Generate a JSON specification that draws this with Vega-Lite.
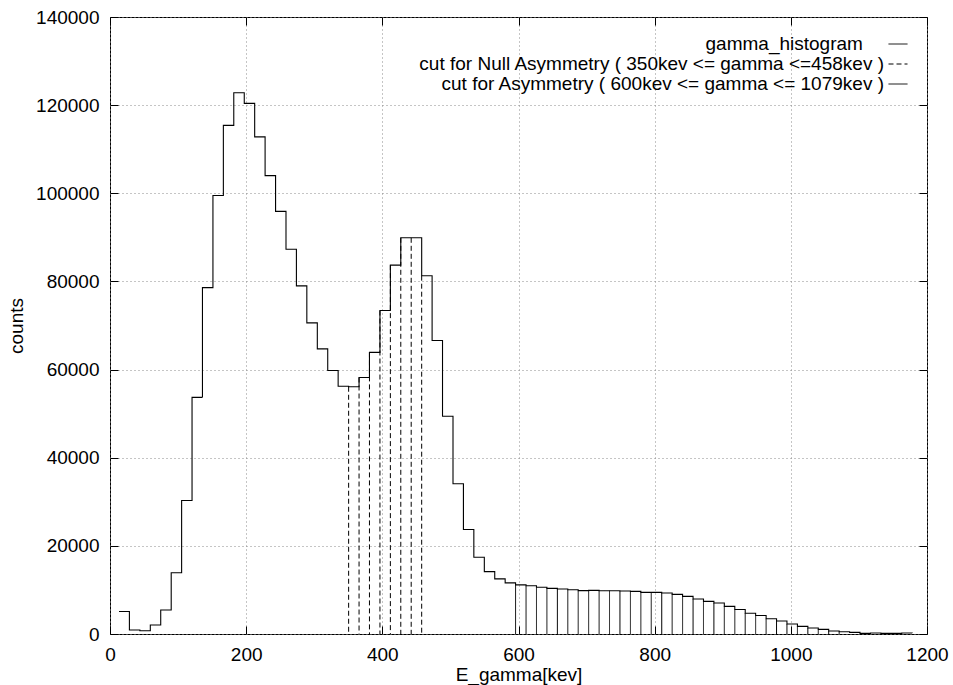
{
  "$schema": "https://vega.github.io/schema/vega-lite/v6.json",
  "width": 817,
  "height": 617,
  "autosize": {"type": "none"},
  "padding": {"left": 110, "top": 17, "right": 26, "bottom": 51},
  "background": "white",
  "config": {
    "view": {"stroke": "black", "strokeWidth": 1},
    "font": "Liberation Sans",
    "axis": {
      "labelFont": "Liberation Sans",
      "titleFont": "Liberation Sans",
      "labelFontSize": 19,
      "titleFontSize": 19,
      "labelColor": "black",
      "titleColor": "black",
      "titleFontWeight": "normal",
      "tickColor": "black",
      "tickSize": -8,
      "tickWidth": 1,
      "domain": false,
      "gridColor": "#8a8a8a",
      "gridDash": [1, 3],
      "gridWidth": 1,
      "labelPadding": 19,
      "labelFlush": false,
      "labelOverlap": false
    },
    "legend": {
      "orient": "top-right",
      "offset": 17,
      "padding": 0,
      "labelFont": "Liberation Sans",
      "labelFontSize": 19,
      "labelColor": "black",
      "labelLimit": 0,
      "symbolType": "stroke",
      "symbolSize": 361,
      "symbolStrokeColor": "black",
      "symbolStrokeWidth": 1,
      "labelAlign": "right",
      "labelOffset": -24,
      "rowPadding": -0.5
    }
  },
  "datasets": {
    "hist": [
      {"E": 13.2, "counts": 5100},
      {"E": 28.5, "counts": 900},
      {"E": 43.9, "counts": 750},
      {"E": 59.2, "counts": 2050},
      {"E": 74.5, "counts": 5450},
      {"E": 89.9, "counts": 13900},
      {"E": 105.2, "counts": 30300},
      {"E": 120.5, "counts": 53700},
      {"E": 135.8, "counts": 78600},
      {"E": 151.2, "counts": 99500},
      {"E": 166.5, "counts": 115400},
      {"E": 181.8, "counts": 122800},
      {"E": 197.2, "counts": 120400},
      {"E": 212.5, "counts": 112800},
      {"E": 227.8, "counts": 104000},
      {"E": 243.2, "counts": 95900},
      {"E": 258.5, "counts": 87300},
      {"E": 273.8, "counts": 79000},
      {"E": 289.1, "counts": 70600},
      {"E": 304.5, "counts": 64700},
      {"E": 319.8, "counts": 59800},
      {"E": 335.1, "counts": 56200},
      {"E": 350.5, "counts": 56100},
      {"E": 365.8, "counts": 58200},
      {"E": 381.1, "counts": 63900},
      {"E": 396.5, "counts": 73400},
      {"E": 411.8, "counts": 83700},
      {"E": 427.1, "counts": 89900},
      {"E": 442.4, "counts": 89900},
      {"E": 457.8, "counts": 81300},
      {"E": 473.1, "counts": 66600},
      {"E": 488.4, "counts": 49400},
      {"E": 503.8, "counts": 34100},
      {"E": 519.1, "counts": 23700},
      {"E": 534.4, "counts": 17400},
      {"E": 549.8, "counts": 14150},
      {"E": 565.1, "counts": 12500},
      {"E": 580.4, "counts": 11600},
      {"E": 595.7, "counts": 11150},
      {"E": 611.1, "counts": 10950},
      {"E": 626.4, "counts": 10600},
      {"E": 641.7, "counts": 10350},
      {"E": 657.1, "counts": 10200},
      {"E": 672.4, "counts": 10050},
      {"E": 687.7, "counts": 9850},
      {"E": 703.0, "counts": 9900},
      {"E": 718.4, "counts": 9830},
      {"E": 733.7, "counts": 9830},
      {"E": 749.0, "counts": 9760},
      {"E": 764.4, "counts": 9670},
      {"E": 779.7, "counts": 9440},
      {"E": 795.0, "counts": 9440},
      {"E": 810.4, "counts": 9300},
      {"E": 825.7, "counts": 9000},
      {"E": 841.0, "counts": 8540},
      {"E": 856.4, "counts": 7950},
      {"E": 871.7, "counts": 7400},
      {"E": 887.0, "counts": 7040},
      {"E": 902.3, "counts": 6270},
      {"E": 917.7, "counts": 5550},
      {"E": 933.0, "counts": 4720},
      {"E": 948.3, "counts": 4200},
      {"E": 963.7, "counts": 3470},
      {"E": 979.0, "counts": 2950},
      {"E": 994.3, "counts": 2270},
      {"E": 1009.7, "counts": 1730},
      {"E": 1025.0, "counts": 1360},
      {"E": 1040.3, "counts": 1050},
      {"E": 1055.6, "counts": 680},
      {"E": 1071.0, "counts": 520},
      {"E": 1086.3, "counts": 360},
      {"E": 1101.6, "counts": 140},
      {"E": 1117.0, "counts": 230},
      {"E": 1132.3, "counts": 140},
      {"E": 1147.6, "counts": 140},
      {"E": 1162.9, "counts": 230},
      {"E": 1178.3, "counts": 200}
    ]
  },
  "layer": [
    {
      "data": {"name": "hist"},
      "mark": {"type": "line", "interpolate": "step-after", "color": "black", "strokeWidth": 1.1},
      "encoding": {
        "x": {
          "field": "E",
          "type": "quantitative",
          "scale": {"domain": [0, 1200], "nice": false, "zero": false},
          "axis": {
            "orient": "bottom",
            "values": [0, 200, 400, 600, 800, 1000, 1200],
            "grid": true,
            "format": "d",
            "title": "E_gamma[kev]",
            "titlePadding": 1
          }
        },
        "y": {
          "field": "counts",
          "type": "quantitative",
          "scale": {"domain": [0, 140000], "nice": false},
          "axis": {
            "orient": "left",
            "values": [0, 20000, 40000, 60000, 80000, 100000, 120000, 140000],
            "grid": true,
            "format": "d",
            "title": "counts",
            "titlePadding": 9
          }
        },
        "strokeDash": {
          "datum": "gamma_histogram",
          "scale": {
            "domain": [
              "gamma_histogram",
              "cut for Null Asymmetry ( 350kev <= gamma <=458kev )",
              "cut for Asymmetry ( 600kev <= gamma <= 1079kev )"
            ],
            "range": [[1, 0], [5, 3], [1, 0]]
          },
          "legend": {
            "title": null,
            "labelExpr": "datum.value == 'gamma_histogram' ? 'gamma_histogram\u00a0\u00a0\u00a0\u00a0\u200b' : datum.label"
          }
        }
      }
    },
    {
      "data": {"name": "hist"},
      "transform": [{"filter": "datum.E >= 350 && datum.E <= 458"}],
      "mark": {"type": "rule", "color": "black", "strokeWidth": 1},
      "encoding": {
        "x": {
          "field": "E",
          "type": "quantitative",
          "axis": {
            "orient": "top",
            "values": [0, 200, 400, 600, 800, 1000, 1200],
            "labels": false,
            "grid": false,
            "title": null
          }
        },
        "y": {
          "field": "counts",
          "type": "quantitative",
          "axis": {
            "orient": "right",
            "values": [0, 20000, 40000, 60000, 80000, 100000, 120000, 140000],
            "labels": false,
            "grid": false,
            "title": null
          }
        },
        "y2": {"datum": 0},
        "strokeDash": {"datum": "cut for Null Asymmetry ( 350kev <= gamma <=458kev )"}
      }
    },
    {
      "data": {"name": "hist"},
      "transform": [{"filter": "datum.E >= 595 && datum.E <= 1079"}],
      "mark": {"type": "rule", "color": "black", "strokeWidth": 1},
      "encoding": {
        "x": {"field": "E", "type": "quantitative", "axis": null},
        "y": {"field": "counts", "type": "quantitative", "axis": null},
        "y2": {"datum": 0},
        "strokeDash": {"datum": "cut for Asymmetry ( 600kev <= gamma <= 1079kev )"}
      }
    }
  ],
  "resolve": {"axis": {"x": "independent", "y": "independent"}}
}
